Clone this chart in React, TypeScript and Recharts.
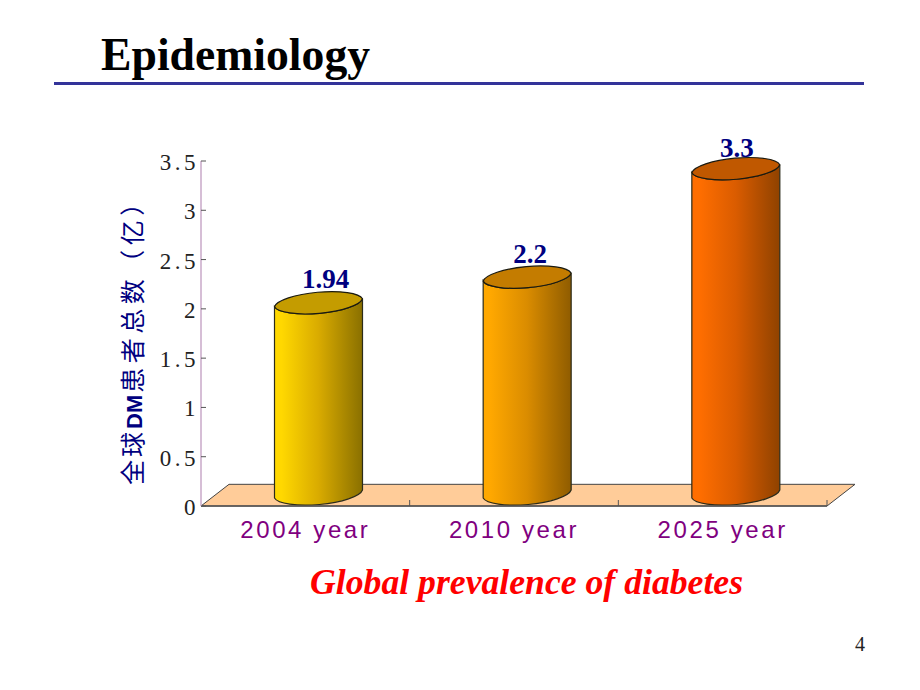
import React from "react";
import { BarChart, Bar, XAxis, YAxis, ReferenceArea } from "recharts";

const categories = ["2004 year", "2010 year", "2025 year"];
const patients = [1.94, 2.2, 3.3];
const yTicks = [0, 0.5, 1, 1.5, 2, 2.5, 3, 3.5];
const yTitleStart = "全球";
const yTitleLatin = "DM";
const yTitleEnd = "患者总数（亿）";
const slideTitle = "Epidemiology";
const caption = "Global prevalence of diabetes";
const pageNumber = "4";
const floorDepthValue = 0.22;

const chartData = categories.map((category, i) => ({ category, patients: patients[i] }));

const bodyStops = [
  ["#ffd800", "#d9ab00", "#8a7000"],
  ["#ffa800", "#da8c00", "#8f5c00"],
  ["#ff6e00", "#da5c00", "#8f4200"],
];
const capColors = ["#c49c00", "#c47c00", "#c05800"];
const labelShift = [7, 3, 1];
const labelRise = [27, 26, 24];

const Cylinder = (props: any) => {
  const { x, y, width, height, index, value } = props;
  const left = x + 13.5;
  const right = left + width;
  const topL = y - 8;
  const topR = y - 16;
  const botL = y + height - 8;
  const botR = y + height - 16;
  const id = "cyl" + index;
  const rx = width / 2 + 0.5;
  const ry = 12;
  const rot = -5.2;
  const stops = bodyStops[index];
  return (
    <g>
      <defs>
        <linearGradient id={id} x1="0" x2="1" y1="0" y2="0">
          <stop offset="0.08" stopColor={stops[0]} />
          <stop offset="0.5" stopColor={stops[1]} />
          <stop offset="1" stopColor={stops[2]} />
        </linearGradient>
      </defs>
      <text
        x={(left + right) / 2 + labelShift[index]}
        y={y - labelRise[index]}
        textAnchor="middle"
        fontFamily="Liberation Serif"
        fontWeight="bold"
        fontSize={27}
        fill="#000080"
      >
        {value}
      </text>
      <path
        d={`M${left},${topL} L${left},${botL} A${rx},${ry} ${rot} 0 0 ${right},${botR} L${right},${topR} A${rx},${ry} ${rot} 0 1 ${left},${topL} Z`}
        fill={`url(#${id})`}
        stroke="#2b2b1a"
        strokeWidth={1.2}
      />
      <path
        d={`M${left},${topL} A${rx},${ry} ${rot} 0 0 ${right},${topR} A${rx},${ry} ${rot} 0 0 ${left},${topL} Z`}
        fill={capColors[index]}
        stroke="#1a1a10"
        strokeWidth={1.2}
      />
    </g>
  );
};

const Floor = (props: any) => {
  const { x, y, width, height } = props;
  const depth = 28;
  return (
    <polygon
      points={`${x},${y + height} ${x + depth},${y} ${x + width + depth},${y} ${x + width},${y + height}`}
      fill="#ffcc99"
      stroke="#444"
      strokeWidth={1}
    />
  );
};

const YTick = (props: any) => {
  const { y, payload } = props;
  return (
    <g>
      <line x1={201} x2={206} y1={y} y2={y} stroke="#555" strokeWidth={1} />
      <text
        x={199}
        y={y + 9}
        textAnchor="end"
        fontFamily="Liberation Serif"
        fontSize={23}
        letterSpacing={3.5}
        fill="#222"
      >
        {payload.value}
      </text>
    </g>
  );
};

const XTick = (props: any) => {
  const { x, payload } = props;
  const band = 626 / 3;
  return (
    <g>
      <line x1={x + band / 2} x2={x + band / 2} y1={500} y2={506} stroke="#555" strokeWidth={1} />
      <text
        x={x}
        y={538}
        textAnchor="middle"
        fontFamily="Liberation Sans"
        fontSize={24}
        letterSpacing={2.6}
        fill="#800080"
      >
        {payload.value}
      </text>
    </g>
  );
};

const AxisTitle = () => (
  <text
    transform="translate(142,485) rotate(-90)"
    textAnchor="start"
    fontFamily="Noto Sans CJK SC"
    fontSize={25}
    fill="#000080"
  >
    <tspan letterSpacing={3}>{yTitleStart}</tspan>
    <tspan letterSpacing={0} fontWeight="bold" fontFamily="Liberation Sans" fontSize={22}>{yTitleLatin}</tspan>
    <tspan letterSpacing={4.5} dx={2}>{yTitleEnd}</tspan>
  </text>
);

export default function App() {
  return (
    <div style={{ position: "absolute", left: 0, top: 0, width: 920, height: 690, background: "#fff", overflow: "hidden" }}>
      <div
        style={{
          position: "absolute",
          left: 101,
          top: 29,
          fontFamily: "Liberation Serif",
          fontWeight: "bold",
          fontSize: 45.7,
          lineHeight: "52px",
          color: "#000",
        }}
      >
        {slideTitle}
      </div>
      <div style={{ position: "absolute", left: 54, top: 82, width: 810, height: 3, background: "#333399" }} />
      <BarChart
        width={920}
        height={690}
        data={chartData}
        margin={{ top: 161, right: 93, bottom: 0, left: 0 }}
        style={{ position: "absolute", left: 0, top: 0 }}
      >
        <ReferenceArea y1={0} y2={floorDepthValue} shape={Floor} />
        <XAxis
          dataKey="category"
          height={184}
          axisLine={{ stroke: "#555", strokeWidth: 1.5 }}
          tickLine={false}
          interval={0}
          tick={XTick}
        />
        <YAxis
          type="number"
          domain={[0, 3.5]}
          ticks={yTicks}
          width={201}
          axisLine={{ stroke: "#c8a8c8", strokeWidth: 1.5 }}
          tickLine={false}
          tick={YTick}
          label={{ content: AxisTitle }}
        />
        <Bar dataKey="patients" barSize={88} isAnimationActive={false} shape={Cylinder} />
      </BarChart>
      <div
        style={{
          position: "absolute",
          left: 310,
          top: 562,
          fontFamily: "Liberation Serif",
          fontWeight: "bold",
          fontStyle: "italic",
          fontSize: 35.7,
          lineHeight: "40px",
          color: "#ff0000",
          whiteSpace: "nowrap",
        }}
      >
        {caption}
      </div>
      <div
        style={{
          position: "absolute",
          left: 855,
          top: 633,
          fontFamily: "Liberation Serif",
          fontSize: 20,
          lineHeight: "23px",
          color: "#222",
        }}
      >
        {pageNumber}
      </div>
    </div>
  );
}
